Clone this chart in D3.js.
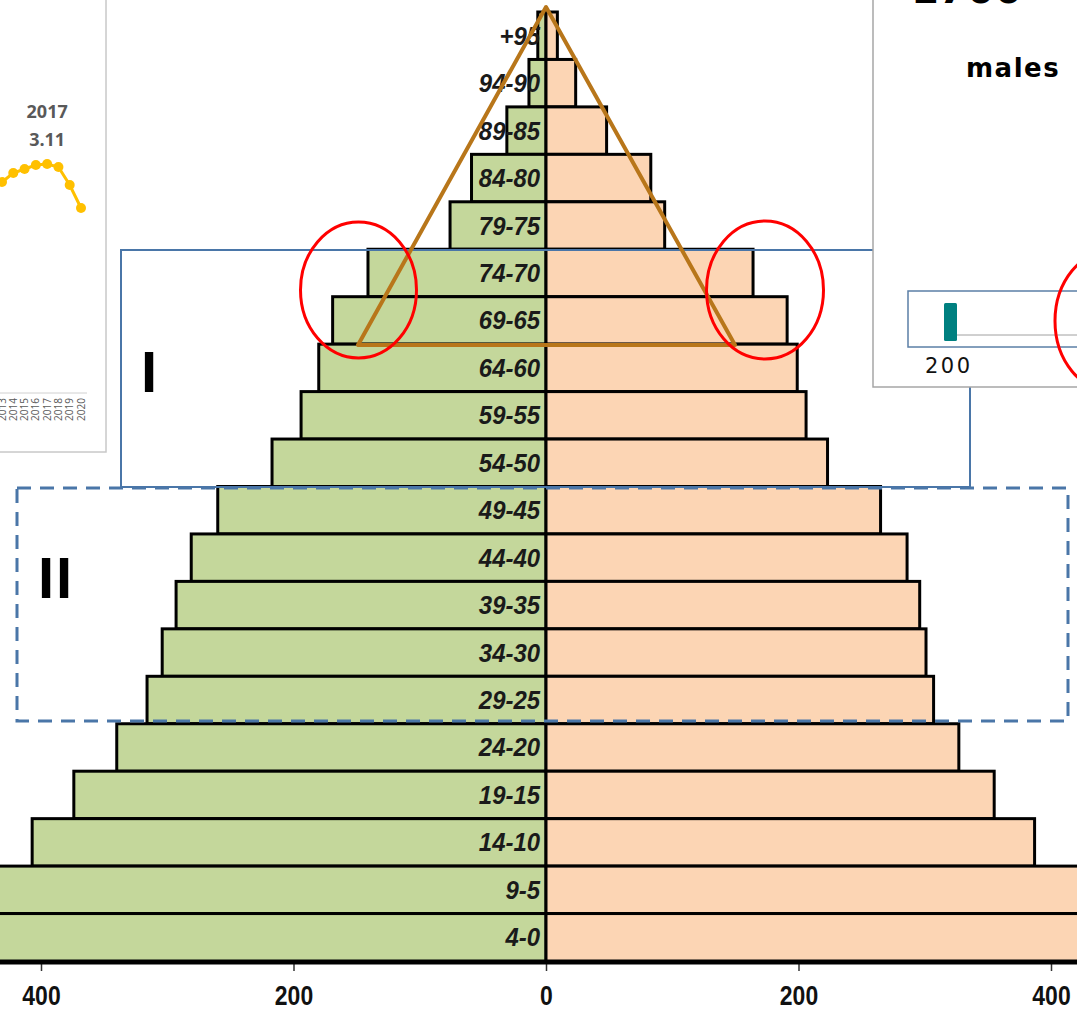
<!DOCTYPE html>
<html><head><meta charset="utf-8">
<script src="https://cdn.jsdelivr.net/npm/d3@7"></script>
<style>html,body{margin:0;padding:0;background:#fff;overflow:hidden}</style>
</head><body>
<svg id="c" width="1077" height="1010"></svg>
<script>
// ---- data ----
const ageGroups = ["+95","94-90","89-85","84-80","79-75","74-70","69-65","64-60","59-55","54-50",
  "49-45","44-40","39-35","34-30","29-25","24-20","19-15","14-10","9-5","4-0"];
const leftValues  = [6.5,13.5,31,59,76,141,169,180,194,217,260,281,293,304,316,340,374,407,445,445];
const rightValues = [9,23.5,48,83,94,164,191,199,206,223,265,286,296,301,307,327,355,387,440,440];
const axisTicks = [-400,-200,0,200,400];
const insetYears = [2013,2014,2015,2016,2017,2018,2019,2020];
const insetValues = [2.93,3.02,3.06,3.10,3.11,3.08,2.90,2.67];
const insetLabelYear = "2017", insetLabelValue = "3.11";
const rightInsetTitle = "males", rightInsetTick = "200";

const svg = d3.select("#c");
const y = d3.scaleBand().domain(ageGroups).range([12, 961]).padding(0);
const xL = d3.scaleLinear().domain([0,400]).range([546, 41]);
const xR = d3.scaleLinear().domain([0,400]).range([546, 1051]);
const xAxisScale = d3.scaleLinear().domain([-400,400]).range([41,1051]);
const condensed = "'Liberation Sans Narrow','Arial Narrow','Liberation Sans',Arial,sans-serif";

const bars = svg.append("g");
bars.selectAll("rect.l").data(ageGroups).join("rect")
  .attr("x", (d,i)=>xL(leftValues[i])).attr("y", d=>y(d))
  .attr("width", (d,i)=>xL(0)-xL(leftValues[i])).attr("height", y.bandwidth())
  .attr("fill","#C4D79B").attr("stroke","#000").attr("stroke-width",3);
bars.selectAll("rect.r").data(ageGroups).join("rect")
  .attr("x", xR(0)).attr("y", d=>y(d))
  .attr("width", (d,i)=>xR(rightValues[i])-xR(0)).attr("height", y.bandwidth())
  .attr("fill","#FCD5B4").attr("stroke","#000").attr("stroke-width",3);

svg.append("g").selectAll("text").data(ageGroups).join("text")
  .attr("transform", d=>`translate(540,${y(d)+y.bandwidth()/2+9}) scale(0.92,1)`)
  .attr("text-anchor","end")
  .style("font-family",condensed)
  .style("font-weight","bold").style("font-style","italic").style("font-size","26px")
  .attr("fill","#1a1a1a").text(d=>d);

// axis
const ax = svg.append("g").attr("transform","translate(0,963)")
  .call(d3.axisBottom(xAxisScale).tickValues(axisTicks).tickFormat(d=>Math.abs(d)).tickSize(8).tickPadding(12));
ax.select(".domain").remove();
svg.append("line").attr("x1",0).attr("x2",1077).attr("y1",963).attr("y2",963).attr("stroke","#000").attr("stroke-width",3);
ax.selectAll(".tick line").attr("stroke","#333").attr("stroke-width",1.5);
ax.selectAll(".tick text").attr("fill","#111").attr("y",0).attr("dy",0)
  .attr("transform","translate(0,42) scale(0.82,1)")
  .style("font-family",condensed)
  .style("font-weight","bold").style("font-size","28px");

// box I
svg.append("rect").attr("x",121).attr("y",250).attr("width",849).attr("height",237)
  .attr("fill","none").attr("stroke","#4A76A8").attr("stroke-width",2);
svg.append("text").attr("x",141).attr("y",392).text("I")
  .style("font-family","'Liberation Sans',sans-serif").style("font-weight","bold").style("font-size","58px");
// box II
svg.append("rect").attr("x",17).attr("y",488).attr("width",1051).attr("height",233)
  .attr("fill","none").attr("stroke","#4A76A8").attr("stroke-width",3).attr("stroke-dasharray","14,9");
svg.append("text").attr("x",38).attr("y",598).text("II").attr("letter-spacing","2px")
  .style("font-family","'Liberation Sans',sans-serif").style("font-weight","bold").style("font-size","58px");

// triangle
svg.append("path").attr("d","M546,7 L358,345 L735,345 Z")
  .attr("fill","none").attr("stroke","#B8761A").attr("stroke-width",4).attr("stroke-linejoin","round");
// ellipses
[[358.5,290,58,68],[765,290,58.5,69]].forEach(e=>{
  svg.append("ellipse").attr("cx",e[0]).attr("cy",e[1]).attr("rx",e[2]).attr("ry",e[3])
    .attr("fill","none").attr("stroke","#FF0000").attr("stroke-width",3);
});

// left inset
const li = svg.append("g");
li.append("rect").attr("x",-2).attr("y",-2).attr("width",108).attr("height",454)
  .attr("fill","#fff").attr("stroke","#C8C8C8").attr("stroke-width",1.5);
const ix = d3.scalePoint().domain(insetYears).range([2,81]);
const iy = d3.scaleLinear().domain([2.0,3.5]).range([275,125]);
li.append("line").attr("x1",0).attr("x2",87).attr("y1",393).attr("y2",393).attr("stroke","#D0D0D0");
li.selectAll("text.yr").data(insetYears).join("text")
  .attr("transform",d=>`translate(${ix(d)+3.5},398) rotate(-90)`)
  .attr("text-anchor","end").attr("fill","#595959")
  .style("font-family","'Open Sans',sans-serif").style("font-size","10px").text(d=>d);
li.append("path").datum(insetYears)
  .attr("d", d3.line().x(d=>ix(d)).y((d,i)=>iy(insetValues[i])))
  .attr("fill","none").attr("stroke","#FFC000").attr("stroke-width",3);
li.selectAll("circle").data(insetYears).join("circle")
  .attr("cx",d=>ix(d)).attr("cy",(d,i)=>iy(insetValues[i])).attr("r",5).attr("fill","#FFC000");
li.append("text").attr("x",ix(2017)).attr("y",118).attr("text-anchor","middle").text(insetLabelYear)
  .attr("fill","#595959").style("font-family","'Open Sans',sans-serif").style("font-weight","bold").style("font-size","18px");
li.append("text").attr("x",ix(2017)).attr("y",146).attr("text-anchor","middle").text(insetLabelValue)
  .attr("fill","#595959").style("font-family","'Open Sans',sans-serif").style("font-weight","bold").style("font-size","18px");

// right inset
const ri = svg.append("g");
ri.append("rect").attr("x",873).attr("y",-2).attr("width",210).attr("height",389)
  .attr("fill","#fff").attr("stroke","#A6A6A6").attr("stroke-width",1.5);
ri.append("text").attr("x",911).attr("y",3).text("1700")
  .style("font-family","'DejaVu Sans',sans-serif").style("font-weight","bold").style("font-size","40px");
ri.append("text").attr("x",966).attr("y",77).text(rightInsetTitle).attr("letter-spacing","1.5px")
  .style("font-family","'DejaVu Sans',sans-serif").style("font-weight","bold").style("font-size","26px");
ri.append("rect").attr("x",908).attr("y",291).attr("width",190).attr("height",56)
  .attr("fill","none").attr("stroke","#5B7FA6").attr("stroke-width",1.5);
ri.append("line").attr("x1",957).attr("x2",1077).attr("y1",335).attr("y2",335).attr("stroke","#A0A0A0").attr("stroke-width",1);
ri.append("rect").attr("x",944).attr("y",303).attr("width",13).attr("height",38).attr("rx",1.5).attr("fill","#008080");
ri.append("text").attr("x",925).attr("y",373).text(rightInsetTick).attr("letter-spacing","2.5px")
  .style("font-family","'DejaVu Sans',sans-serif").style("font-size","21px").attr("fill","#111");
ri.append("ellipse").attr("cx",1113).attr("cy",321).attr("rx",58).attr("ry",71)
  .attr("fill","none").attr("stroke","#FF0000").attr("stroke-width",3);
</script>
</body></html>
